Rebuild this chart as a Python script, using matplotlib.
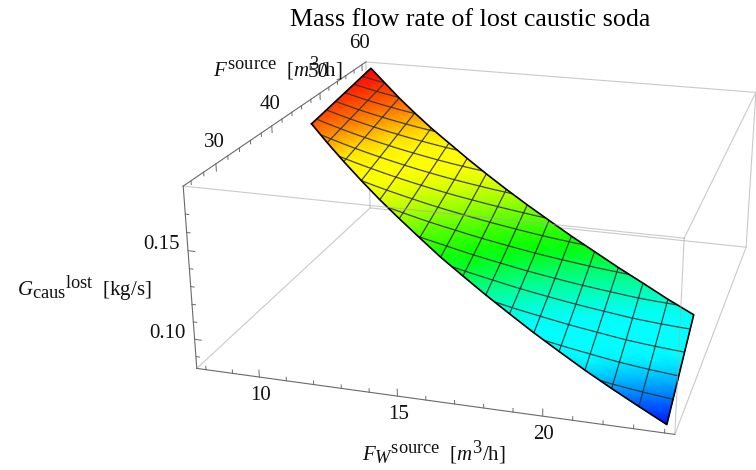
import numpy as np
import matplotlib
matplotlib.use("Agg")
import matplotlib.pyplot as plt
import matplotlib._mathtext as mathtext_internals
from matplotlib.colors import LinearSegmentedColormap

plt.rcParams["font.family"] = ["Liberation Serif"]
plt.rcParams["mathtext.fontset"] = "custom"
plt.rcParams["mathtext.rm"] = "Liberation Serif"
plt.rcParams["mathtext.it"] = "Liberation Serif:italic"
# the reference has big super/subscripts
mathtext_internals.SHRINK_FACTOR = 0.88

# values
f_water = [8, 9, 10, 11, 12, 13, 14, 15, 16, 17, 18, 19, 20, 21, 22, 23, 24]
f_high = [60.3, 58.1, 55.9, 53.9, 52.0, 50.3, 48.6, 47.0, 45.5, 44.1, 42.8, 41.5, 40.3, 39.1, 38.0, 36.8, 35.7]
f_low = [46.2, 44.3, 42.5, 40.8, 39.2, 37.7, 36.3, 34.9, 33.7, 32.5, 31.4, 30.3, 29.3, 28.3, 27.4, 26.5, 25.6]
g_high = [0.1825, 0.1780, 0.1735, 0.1690, 0.1645, 0.1600, 0.1555, 0.1510, 0.1465,
          0.1420, 0.1375, 0.1331, 0.1288, 0.1245, 0.1203, 0.1163, 0.1126]
g_low = [0.1739, 0.1677, 0.1615, 0.1554, 0.1493, 0.1434, 0.1374, 0.1316, 0.1258,
         0.1202, 0.1146, 0.1092, 0.1039, 0.0988, 0.0938, 0.0892, 0.0848]
f_mesh = [27.8, 29.9, 32.1, 34.3, 36.4, 38.6, 40.8, 43.0, 45.1, 47.3, 49.5, 51.6, 53.8, 56.0, 58.1]

x_lim = (7.65, 24.33)
y_lim = (24.8, 61.0)
z_lim = (0.0831, 0.1851)

x_major = [10, 15, 20]
x_minor = [8, 9, 11, 12, 13, 14, 16, 17, 18, 19, 21, 22, 23, 24]
y_major = [30, 40, 50, 60]
y_minor = [26, 28, 32, 34, 36, 38, 42, 44, 46, 48, 52, 54, 56, 58]
z_major = [0.10, 0.15]
z_minor = [0.09, 0.11, 0.12, 0.13, 0.14, 0.16, 0.17]

# colour by height
color_levels = [0.0848, 0.094, 0.101, 0.112, 0.122, 0.130, 0.134, 0.140, 0.146, 0.153, 0.159, 0.163, 0.171, 0.1825]
color_stops = ["#0014ff", "#00a0ff", "#00ffff", "#00ffff", "#00ff8c", "#00ff00", "#1eff00",
               "#6eff00", "#beff00", "#ffff00", "#ffff00", "#ffeb00", "#ff7800", "#ff0000"]

# where the eight corners of the box fall in the image
box_corners = {
    (0, 0, 0): (197, 369), (1, 0, 0): (675, 434), (0, 0, 1): (183, 186), (0, 1, 1): (366, 62.5),
    (0, 1, 0): (370, 207), (1, 0, 1): (684, 238), (1, 1, 0): (746, 248), (1, 1, 1): (756, 92),
}


def fit_camera(corners):
    rows = []
    for (a, b, c), (p, q) in corners.items():
        rows.append([a, b, c, 1, 0, 0, 0, 0, -p * a, -p * b, -p * c, -p])
        rows.append([0, 0, 0, 0, a, b, c, 1, -q * a, -q * b, -q * c, -q])
    return np.linalg.svd(np.array(rows, float))[2][-1].reshape(3, 4)


camera = fit_camera(box_corners)


def project(x, y, z):
    x, y, z = np.broadcast_arrays(x, y, z)
    u = (x - x_lim[0]) / (x_lim[1] - x_lim[0])
    v = (y - y_lim[0]) / (y_lim[1] - y_lim[0])
    w = (z - z_lim[0]) / (z_lim[1] - z_lim[0])
    pts = np.stack([u, v, w, np.ones_like(u)], axis=-1) @ camera.T
    return pts[..., 0] / pts[..., 2], pts[..., 1] / pts[..., 2]


def line3d(ax, a, b, **kw):
    px, py = project(*zip(a, b))
    ax.plot(px, py, **kw)


fig = plt.figure(figsize=(7.56, 4.70), dpi=100)
ax = fig.add_axes([0, 0, 1, 1])
ax.set_xlim(0, 756)
ax.set_ylim(470, 0)
ax.axis("off")

x0, x1 = x_lim
y0, y1 = y_lim
z0, z1 = z_lim

# back edges, behind the surface
back = dict(color="#c9c9c9", lw=0.8, zorder=1)
line3d(ax, (x0, y0, z0), (x0, y1, z0), **back)
line3d(ax, (x0, y1, z0), (x0, y1, z1), **back)
line3d(ax, (x0, y1, z0), (x1, y1, z0), **back)
line3d(ax, (x0, y1, z1), (x1, y1, z1), **back)
line3d(ax, (x1, y1, z0), (x1, y1, z1), **back)
line3d(ax, (x1, y0, z0), (x1, y1, z0), **back)
line3d(ax, (x1, y0, z1), (x1, y1, z1), **back)

# surface
xs = np.array(f_water, float)
yh, yl = np.array(f_high), np.array(f_low)
zh, zl = np.array(g_high), np.array(g_low)
t = np.linspace(0, 1, 13)[:, None]
grid_x = np.tile(xs, (len(t), 1))
grid_y = yl + t * (yh - yl)
grid_z = zl + t * (zh - zl)
px, py = project(grid_x, grid_y, grid_z)
levels = (np.array(color_levels) - color_levels[0]) / (color_levels[-1] - color_levels[0])
cmap = LinearSegmentedColormap.from_list("height", list(zip(levels, color_stops)))
ax.pcolormesh(px, py, grid_z, cmap=cmap, vmin=color_levels[0], vmax=color_levels[-1],
              shading="gouraud", zorder=2)

# mesh lines
mesh = dict(color="#333333", lw=0.9, alpha=0.9, zorder=3, solid_capstyle="butt")
for i in range(1, len(xs) - 1):
    ax.plot(px[:, i], py[:, i], **mesh)
for f in f_mesh:
    xa = np.interp(f, yl[::-1], xs[::-1])
    xb = np.interp(f, yh[::-1], xs[::-1])
    xx = np.linspace(xa, xb, 60)
    low, high = np.interp(xx, xs, yl), np.interp(xx, xs, yh)
    frac = (f - low) / (high - low)
    zz = np.interp(xx, xs, zl) + frac * (np.interp(xx, xs, zh) - np.interp(xx, xs, zl))
    lx, ly = project(xx, f, zz)
    ax.plot(lx, ly, **mesh)

# outline
ox = np.r_[px[0], px[:, -1], px[-1][::-1], px[:, 0][::-1]]
oy = np.r_[py[0], py[:, -1], py[-1][::-1], py[:, 0][::-1]]
ax.plot(ox, oy, color="black", lw=1.2, zorder=4, solid_joinstyle="round")

# front edges show faintly over the surface
front = dict(color="#a8a8a8", lw=0.8, alpha=0.6, zorder=5)
line3d(ax, (x0, y0, z1), (x1, y0, z1), **front)
line3d(ax, (x1, y0, z0), (x1, y0, z1), **front)

# axes with ticks
axis_line = dict(color="#6a6a6a", lw=0.8, zorder=6)
line3d(ax, (x0, y0, z0), (x1, y0, z0), **axis_line)
line3d(ax, (x0, y0, z0), (x0, y0, z1), **axis_line)
line3d(ax, (x0, y0, z1), (x0, y1, z1), **axis_line)

tick = dict(color="#6a6a6a", lw=0.7, zorder=6)
for v in x_major + x_minor:
    line3d(ax, (v, y0, z0), (v, y0, z0 + (0.004 if v in x_major else 0.002)), **tick)
for v in y_major + y_minor:
    line3d(ax, (x0, v, z1), (x0, v, z1 - (0.004 if v in y_major else 0.002)), **tick)
for v in z_major + z_minor:
    line3d(ax, (x0, y0, v), (x0 + (0.25 if v in z_major else 0.13), y0, v), **tick)

label = dict(fontsize=15, ha="center", va="center", color="#111111", zorder=7)
for v in x_major:
    p, q = project(v, y0, z0)
    ax.text(p + 1, q + 18, str(v), **label)
for v in y_major:
    p, q = project(x0, v, z1)
    ax.text(p - 2, q - 21, str(v), **label)
for v in z_major:
    p, q = project(x0, y0, v)
    ax.text(p - 27, q - 6, f"{v:.2f}", **label)

ax.text(470, 20, "Mass flow rate of lost caustic soda", fontsize=18.7, ha="center", va="center")
ax.text(278, 68, r"$F^{\mathrm{source}}\ \ [m^3/\mathrm{h}]$", **label)
ax.text(84, 288, r"${G_{\mathrm{caus}}}^{\mathrm{lost}}\ \ [\mathrm{kg/s}]$", **label)
ax.text(434, 452, r"${F_W}^{\mathrm{source}}\ \ [m^3/\mathrm{h}]$", **label)

fig.savefig("out.png", dpi=100)
